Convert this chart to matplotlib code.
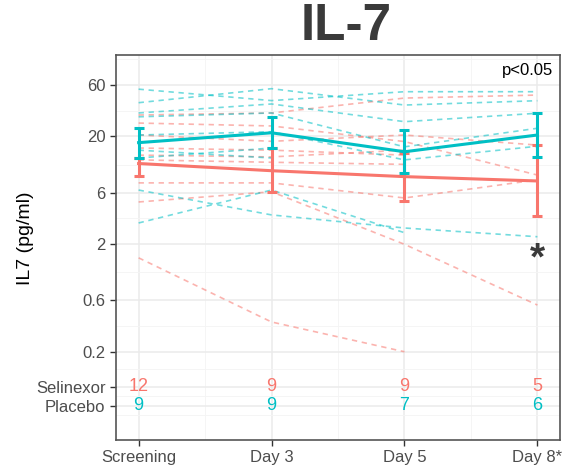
import numpy as np
import matplotlib
matplotlib.use("Agg")
import matplotlib.pyplot as plt

plt.rcParams['font.family'] = ['Liberation Sans', 'DejaVu Sans']

days = ["Screening", "Day 3", "Day 5", "Day 8*"]
nan = np.nan

# individual patients (pg/ml), nan = missing
selinexor_patients = [
    [31.6, 33, 45.4, 48.4],
    [26.6, 25, 17.9, 8.75],
    [20.6, 18, 20.6, 16.6],
    [15.6, 14.9, 13.4, nan],
    [13.4, 12.9, 14.9, nan],
    [12.1, 11.5, 11, nan],
    [11, nan, nan, nan],
    [10, nan, nan, nan],
    [7.4, 7.4, 5.36, 7.9],
    [4.92, 6.12, 1.99, 0.543],
    [4.7, nan, nan, nan],
    [1.49, 0.378, 0.2, nan],
]
placebo_patients = [
    [54.9, 43, 52, 52],
    [41.1, 55.5, 39.1, 42.9],
    [33.0, 40, 27.4, 32.8],
    [30.4, 33, 16.0, 23.8],
    [20.6, 22.1, 12.1, 16.2],
    [14.9, 12.6, nan, nan],
    [12.6, 15.6, nan, nan],
    [6.35, 3.73, 2.82, 2.34],
    [3.14, 6.35, 2.55, nan],
]

# group means with error bar limits
sel_mean = [11.2, 9.6, 8.46, 7.71]
sel_low = [8.6, 6.05, 5.06, 3.67]
sel_high = [12.6, 15.5, 14.1, 16.6]
pla_mean = [17.5, 21.6, 14.4, 20.6]
pla_low = [12.5, 15.7, 9.08, 12.8]
pla_high = [23.8, 30.1, 22.9, 33.2]

sel_n = [12, 9, 9, 5]
pla_n = [9, 9, 7, 6]

value_ticks = [60, 20, 6, 2, 0.6, 0.2]
value_labels = ["60", "20", "6", "2", "0.6", "0.2"]
sel_row = 0.0942
pla_row = 0.0628

red = "#F8766D"
teal = "#00BFC4"

fig = plt.figure(figsize=(5.63, 4.65), dpi=100)
ax = fig.add_axes([116/563, 25/465, 444/563, 385/465])
ax.set_yscale('log')
x = np.arange(len(days))

for p in selinexor_patients:
    ax.plot(x, p, color=red, alpha=0.55, lw=1.2, dashes=(3.2, 2.8), zorder=2)
for p in placebo_patients:
    ax.plot(x, p, color=teal, alpha=0.55, lw=1.2, dashes=(3.2, 2.8), zorder=2)

for m, lo, hi, c in [(sel_mean, sel_low, sel_high, red), (pla_mean, pla_low, pla_high, teal)]:
    m = np.array(m)
    err = [m - np.array(lo), np.array(hi) - m]
    ax.errorbar(x, m, yerr=err, color=c, lw=2.2, elinewidth=2.2, capsize=3.5,
                capthick=2.2, zorder=4)

for i in range(len(days)):
    ax.text(x[i], sel_row, str(sel_n[i]), color=red, fontsize=13, ha='center', va='center')
    ax.text(x[i], pla_row, str(pla_n[i]), color=teal, fontsize=13, ha='center', va='center')

ax.text(x[3], 1.45, "*", fontsize=28, fontweight='bold', color='#3a3a3a', ha='center', va='center')

ax.set_xlim(-0.17, 3.17)
ax.set_ylim(0.0303, 114)
ax.set_xticks(x)
ax.set_xticklabels(days)
ax.set_xticks([0.5, 1.5, 2.5], minor=True)

yt = value_ticks + [sel_row, pla_row]
ax.set_yticks(yt)
ax.set_yticklabels(value_labels + ["Selinexor", "Placebo"])
lg = np.sort(np.log10(yt))
mids = list((lg[1:] + lg[:-1]) / 2)
mids += [lg[0] - (lg[1] - lg[0]) / 2, lg[-1] + (lg[-1] - lg[-2]) / 2]
ax.set_yticks(10 ** np.array(mids), minor=True)
ax.yaxis.set_minor_formatter(matplotlib.ticker.NullFormatter())

ax.grid(True, which='major', color='#EBEBEB', lw=1.1, zorder=0)
ax.grid(True, which='minor', color='#F4F4F4', lw=0.6, zorder=0)
ax.set_axisbelow(True)
ax.tick_params(which='major', length=4, width=1, color='#333333', labelsize=12, labelcolor='#4D4D4D')
ax.tick_params(which='minor', length=0)
for s in ax.spines.values():
    s.set_color('#555555')
    s.set_linewidth(1.2)

fig.text(346/563, 1 - 27/465, "IL-7", fontsize=37, fontweight='bold', color='#3a3a3a',
         ha='center', va='center')
fig.text(25/563, 1 - 238/465, "IL7 (pg/ml)", fontsize=14, rotation=90, ha='center', va='center')
fig.text(553/563, 1 - 70/465, "p<0.05", fontsize=12, ha='right', va='center')

fig.savefig("out.png", dpi=100)
